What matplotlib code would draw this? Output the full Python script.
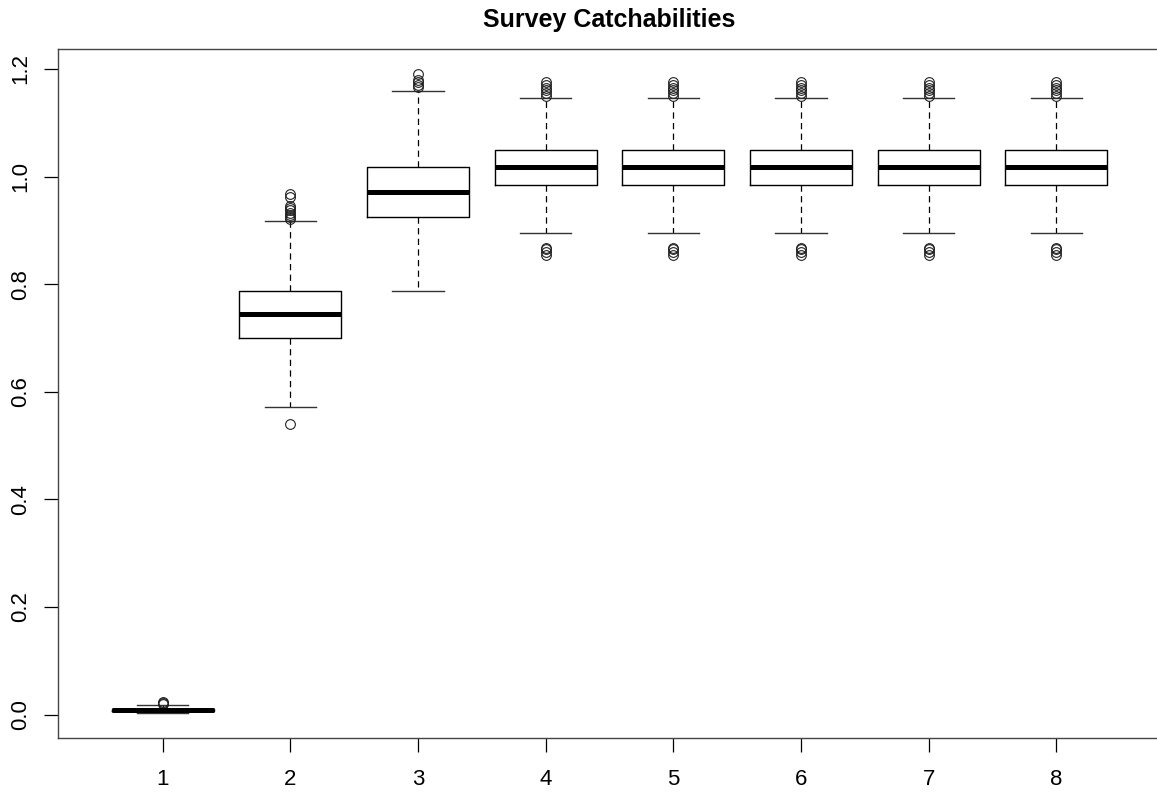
import matplotlib
matplotlib.use('Agg')
import matplotlib.pyplot as plt

plt.rcParams['font.family'] = ['Liberation Sans', 'DejaVu Sans']

# ---- data (boxplot summary statistics) ----
positions = [1, 2, 3, 4, 5, 6, 7, 8]
tick_labels = ['1', '2', '3', '4', '5', '6', '7', '8']

medians = [0.0085, 0.744, 0.971, 1.018, 1.018, 1.018, 1.018, 1.018]
q1s = [0.006, 0.700, 0.925, 0.984, 0.984, 0.984, 0.984, 0.984]
q3s = [0.011, 0.787, 1.018, 1.049, 1.049, 1.049, 1.049, 1.049]
whis_lo = [0.003, 0.571, 0.787, 0.895, 0.895, 0.895, 0.895, 0.895]
whis_hi = [0.017, 0.917, 1.159, 1.146, 1.146, 1.146, 1.146, 1.146]

late_fliers = [0.855, 0.860, 0.865, 0.868,
               1.150, 1.155, 1.160, 1.165, 1.170, 1.175]
fliers = [
    [0.019, 0.021, 0.023],
    [0.540, 0.921, 0.925, 0.929, 0.933, 0.937, 0.941, 0.945, 0.962, 0.967],
    [1.166, 1.171, 1.176, 1.180, 1.190],
    late_fliers, late_fliers, late_fliers, late_fliers, late_fliers,
]

stats = []
for med, q1, q3, lo, hi, fl in zip(medians, q1s, q3s, whis_lo, whis_hi, fliers):
    stats.append(dict(med=med, q1=q1, q3=q3, whislo=lo, whishi=hi, fliers=fl))

# ---- figure ----
W, H = 1157, 793
fig = plt.figure(figsize=(W / 100, H / 100), dpi=100)
ax = fig.add_axes([58 / W, (H - 738) / H, (1161 - 58) / W, (738 - 49) / H])

ax.bxp(stats, positions=positions, widths=0.8, capwidths=0.4,
       boxprops=dict(color='black', linewidth=1.0),
       medianprops=dict(color='black', linewidth=3.6, solid_capstyle='butt'),
       whiskerprops=dict(color='black', linewidth=0.9, linestyle=(0, (5, 3.5))),
       capprops=dict(color='#333333', linewidth=1.0),
       flierprops=dict(marker='o', markersize=7, markerfacecolor='none',
                       markeredgecolor='#222222', markeredgewidth=0.8,
                       linestyle='none'))

ax.set_xlim(0.18, 8.82)
ax.set_ylim(-0.0435, 1.237)
ax.set_xticks(positions)
ax.set_xticklabels(tick_labels)
ax.set_yticks([0.0, 0.2, 0.4, 0.6, 0.8, 1.0, 1.2])
ax.set_yticklabels(['0.0', '0.2', '0.4', '0.6', '0.8', '1.0', '1.2'],
                   rotation=90, va='center')

ax.tick_params(axis='both', direction='out', length=10, width=0.9,
               labelsize=16, colors='black')
ax.tick_params(axis='x', pad=12)
ax.tick_params(axis='y', pad=9)

for side in ['top', 'right', 'bottom', 'left']:
    ax.spines[side].set_color('#444444')
    ax.spines[side].set_linewidth(1.0)

ax.set_title('Survey Catchabilities', fontsize=18, fontweight='bold', pad=16)

fig.savefig('out.png', dpi=100)
